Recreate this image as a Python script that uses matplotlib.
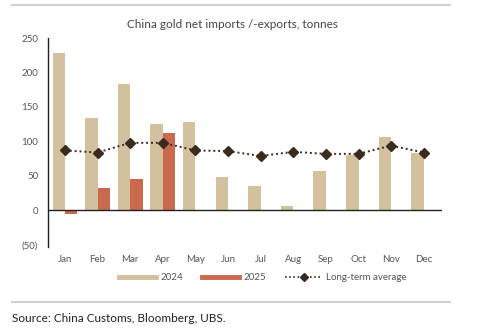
import matplotlib
matplotlib.use("Agg")
import matplotlib.pyplot as plt
from matplotlib.lines import Line2D
import numpy as np

months = ["Jan", "Feb", "Mar", "Apr", "May", "Jun", "Jul", "Aug", "Sep", "Oct", "Nov", "Dec"]
imports_2024 = [228, 134, 183, 125, 128, 48, 36, 7, 57, 80, 107, 84]
imports_2025 = [-5, 32, 45, 112]
long_term_avg = [87, 84, 98, 98, 87, 86, 79, 85, 82, 82, 94, 84]
yticks = [-50, 0, 50, 100, 150, 200, 250]
ytick_labels = ["(50)", "0", "50", "100", "150", "200", "250"]

plt.rcParams['font.family'] = ['Lato', 'DejaVu Sans']

c24 = "#D3C09E"
c25 = "#C96A4E"
cavg = "#3B2A1E"
tick_col = "#555555"

fig = plt.figure(figsize=(4.81, 3.31), dpi=100)
ax = fig.add_axes([48/481, 1-247/331, (442-48)/481, (247-38)/331])

x = np.arange(len(months))
w = 0.38
ax.bar(x - w/2, imports_2024, width=w, color=c24, zorder=2)
x25 = np.arange(len(imports_2025))
ax.bar(x25 + w/2, imports_2025, width=w, color=c25, zorder=2)
ax.plot(x, long_term_avg, linestyle=(0, (1, 1.5)), color=cavg, linewidth=1.4,
        marker="D", markersize=5, zorder=3)

ax.axhline(0, color="#222222", linewidth=1.0, zorder=4)
ax.set_xlim(-0.52, 11.56)
ax.set_ylim(-53, 250)
ax.set_yticks(yticks)
ax.set_yticklabels(ytick_labels)
ax.set_xticks(x)
ax.set_xticklabels(months)
ax.tick_params(axis="y", length=0, pad=7, labelsize=7, labelcolor=tick_col)
ax.tick_params(axis="x", length=0, pad=6, labelsize=7, labelcolor=tick_col)
for s in ["top", "right", "bottom"]:
    ax.spines[s].set_visible(False)
ax.spines["left"].set_color("#222222")
ax.spines["left"].set_linewidth(1.0)

fig.text(232/481, 1-25/331, "China gold net imports /-exports, tonnes",
         ha="center", va="center", fontsize=8.5, color="#444444")

handles = [Line2D([], [], color=c24, linewidth=3.5),
           Line2D([], [], color=c25, linewidth=3.5),
           Line2D([], [], color=cavg, linewidth=1.2, linestyle=(0, (1, 1.5)),
                  marker="D", markersize=4)]
leg = fig.legend(handles, ["2024", "2025", "Long-term average"], loc="center",
                 bbox_to_anchor=(263/481, 1-278/331), ncol=3, frameon=False,
                 fontsize=7, handlelength=3.8, columnspacing=2.0, handletextpad=0.4)
for t in leg.get_texts():
    t.set_color(tick_col)

fig.add_artist(Line2D([12/481, 450/481], [1-5/331, 1-5/331], color="#d0d0d0", linewidth=1.5))
fig.add_artist(Line2D([12/481, 450/481], [1-302/331, 1-302/331], color="#d0d0d0", linewidth=1.5))
fig.text(12/481, 1-318/331, "Source: China Customs, Bloomberg, UBS.", ha="left", va="center",
         fontsize=8.5, color="#222222")

fig.savefig("out.png", dpi=100)
